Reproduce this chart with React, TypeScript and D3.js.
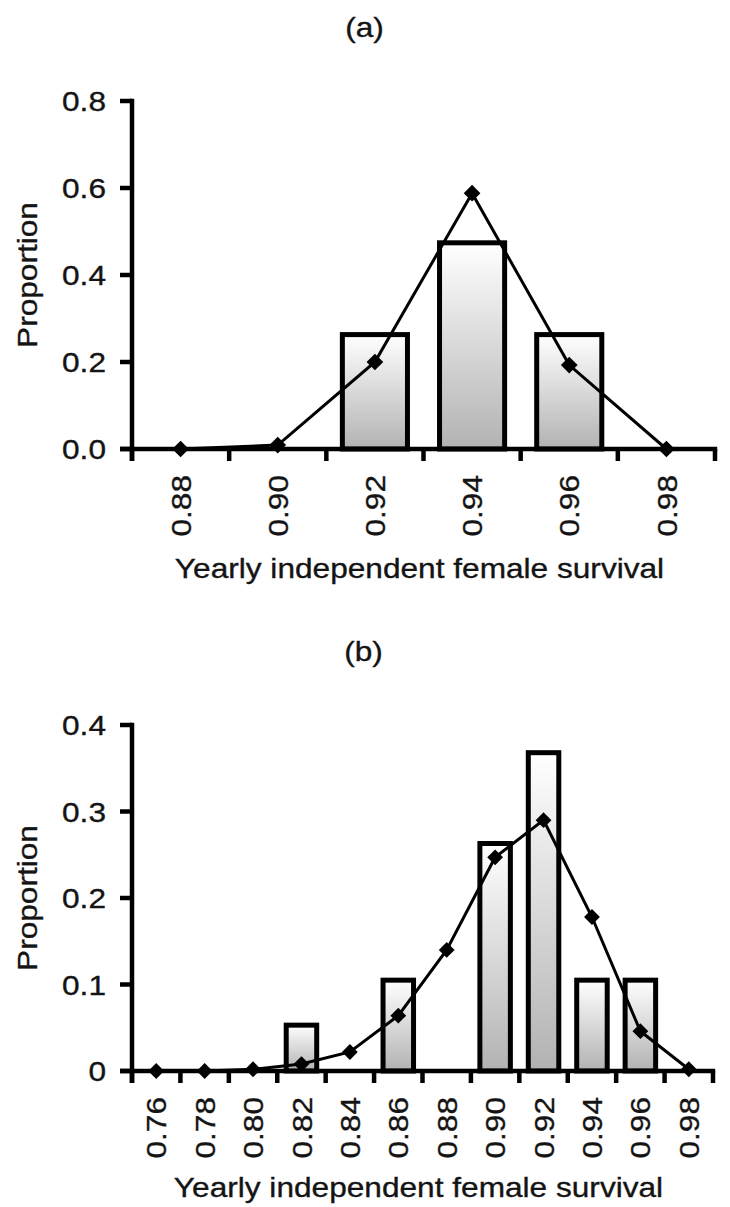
import React from 'react';
import * as d3 from 'd3';

// Panel (a)
const catsA = ['0.88', '0.90', '0.92', '0.94', '0.96', '0.98'];
const barsA = [0, 0, 0.263, 0.474, 0.263, 0];
const lineA = [0.0, 0.009, 0.2, 0.588, 0.193, 0.0];
const yTicksA = [0, 0.2, 0.4, 0.6, 0.8];
const yTickLabelsA = ['0.0', '0.2', '0.4', '0.6', '0.8'];

// Panel (b)
const catsB = ['0.76', '0.78', '0.80', '0.82', '0.84', '0.86', '0.88', '0.90', '0.92', '0.94', '0.96', '0.98'];
const barsB = [0, 0, 0, 0.053, 0, 0.105, 0, 0.263, 0.368, 0.105, 0.105, 0];
const lineB = [0, 0, 0.002, 0.008, 0.022, 0.064, 0.14, 0.247, 0.29, 0.178, 0.046, 0.002];
const yTicksB = [0, 0.1, 0.2, 0.3, 0.4];
const yTickLabelsB = ['0', '0.1', '0.2', '0.3', '0.4'];

const xTitle = 'Yearly independent female survival';
const yTitle = 'Proportion';

const FONT = '"Liberation Sans", Arial, Helvetica, sans-serif';
const FS = 28;
const SX = 1.13;

type PanelProps = {
  id: string;
  label: string;
  cats: string[];
  bars: number[];
  line: number[];
  yTicks: number[];
  yTickLabels: string[];
  x0: number;
  x1: number;
  yTop: number;
  yBottom: number;
  labelY: number;
  xTitleY: number;
  barFrac: number;
  diamond: number;
};

const textProps = {
  fontFamily: FONT,
  fontSize: FS,
  fill: '#141414',
  stroke: '#141414',
  strokeWidth: 0.35,
};

function Panel(p: PanelProps) {
  const x = d3.scaleBand<string>().domain(p.cats).range([p.x0, p.x1]).padding(0);
  const yMax = p.yTicks[p.yTicks.length - 1];
  const y = d3.scaleLinear().domain([0, yMax]).range([p.yBottom, p.yTop]);
  const bw = x.bandwidth();
  const cx = (c: string) => (x(c) as number) + bw / 2;
  const lineGen = d3
    .line<number>()
    .x((_, i) => cx(p.cats[i]))
    .y((d) => y(d));
  const diamondPath = d3.symbol(d3.symbolSquare, p.diamond)() as string;
  const tickLen = 12;
  const boundaries = p.cats.map((c) => x(c) as number).concat([p.x1]);
  const txt = (tx: number, ty: number, rot = 0) =>
    `translate(${tx},${ty}) rotate(${rot}) scale(${SX},1)`;

  return (
    <g>
      <text transform={txt((p.x0 + p.x1) / 2 - 59, p.labelY)} textAnchor="middle" {...textProps}>
        {p.label}
      </text>
      {/* bars */}
      {p.bars.map((v, i) =>
        v > 0 ? (
          <rect
            key={'b' + i}
            x={cx(p.cats[i]) - (bw * p.barFrac) / 2}
            y={y(v)}
            width={bw * p.barFrac}
            height={y(0) - y(v)}
            fill={`url(#grad${p.id})`}
            stroke="#000"
            strokeWidth={5}
          />
        ) : null
      )}
      {/* axes */}
      <line x1={p.x0} x2={p.x0} y1={p.yTop - 2.2} y2={p.yBottom + tickLen} stroke="#000" strokeWidth={4.5} />
      <line x1={p.x0 - tickLen} x2={p.x1 + 2.2} y1={p.yBottom} y2={p.yBottom} stroke="#000" strokeWidth={4.5} />
      {p.yTicks.map((t, i) => (
        <g key={'yt' + i}>
          <line x1={p.x0 - tickLen} x2={p.x0} y1={y(t)} y2={y(t)} stroke="#000" strokeWidth={4.5} />
          <text transform={txt(p.x0 - 26, y(t))} dy="0.36em" textAnchor="end" {...textProps}>
            {p.yTickLabels[i]}
          </text>
        </g>
      ))}
      {boundaries.map((b, i) => (
        <line key={'xt' + i} x1={b} x2={b} y1={p.yBottom} y2={p.yBottom + tickLen} stroke="#000" strokeWidth={4.5} />
      ))}
      {p.cats.map((c) => (
        <text
          key={'xl' + c}
          transform={txt(cx(c), p.yBottom + 26, -90)}
          dy="0.36em"
          textAnchor="end"
          {...textProps}
        >
          {c}
        </text>
      ))}
      {/* line + markers */}
      <path d={lineGen(p.line) as string} fill="none" stroke="#000" strokeWidth={3} />
      {p.line.map((v, i) => (
        <path
          key={'m' + i}
          d={diamondPath}
          transform={`translate(${cx(p.cats[i])},${y(v)}) rotate(45)`}
          fill="#000"
        />
      ))}
      <text transform={txt((p.x0 + p.x1) / 2 - 4, p.xTitleY)} textAnchor="middle" {...textProps}>
        {xTitle}
      </text>
      <text transform={txt(37, (p.yTop + p.yBottom) / 2, -90)} textAnchor="middle" {...textProps}>
        {yTitle}
      </text>
    </g>
  );
}

export default function App() {
  return (
    <svg
      width={730}
      height={1207}
      viewBox="0 0 730 1207"
      style={{ position: 'absolute', left: 0, top: 0, background: '#fff' }}
    >
      <defs>
        {['A', 'B'].map((id) => (
          <linearGradient key={id} id={'grad' + id} x1="0" y1="0" x2="0" y2="1">
            <stop offset="0%" stopColor="#ffffff" />
            <stop offset="100%" stopColor="#b2b2b2" />
          </linearGradient>
        ))}
      </defs>
      <rect x={0} y={0} width={730} height={1207} fill="#fff" />
      <Panel
        id="A"
        label="(a)"
        cats={catsA}
        bars={barsA}
        line={lineA}
        yTicks={yTicksA}
        yTickLabels={yTickLabelsA}
        x0={132}
        x1={715}
        yTop={101}
        yBottom={449}
        labelY={37}
        xTitleY={578}
        barFrac={0.67}
        diamond={140}
      />
      <Panel
        id="B"
        label="(b)"
        cats={catsB}
        bars={barsB}
        line={lineB}
        yTicks={yTicksB}
        yTickLabels={yTickLabelsB}
        x0={132}
        x1={713}
        yTop={725}
        yBottom={1071}
        labelY={661}
        xTitleY={1197}
        barFrac={0.63}
        diamond={125}
      />
    </svg>
  );
}
